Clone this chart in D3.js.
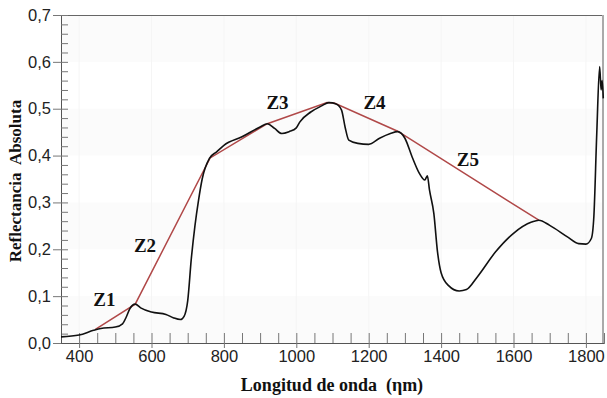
<!DOCTYPE html>
<html><head><meta charset="utf-8">
<script src="https://cdn.jsdelivr.net/npm/d3@7"></script>
<style>html,body{margin:0;padding:0;background:#fff;}</style>
</head><body>
<svg id="chart" width="607" height="398"></svg>
<script>
// Spectrum (wavelength nm, absolute reflectance)
const wavelength = [350,400,440,460,500,520,530,540,555,570,600,640,660,680,690,700,710,720,730,740,760,780,800,850,900,920,940,960,980,1000,1010,1040,1070,1090,1110,1125,1135,1145,1170,1200,1230,1260,1280,1300,1320,1340,1355,1362,1368,1380,1390,1400,1420,1450,1470,1500,1550,1600,1650,1670,1700,1750,1780,1800,1815,1822,1830,1838,1842,1845,1848];
const reflectance = [0.013,0.017,0.027,0.031,0.034,0.041,0.055,0.073,0.083,0.075,0.066,0.061,0.054,0.050,0.057,0.090,0.180,0.250,0.305,0.350,0.394,0.408,0.422,0.440,0.461,0.468,0.458,0.447,0.451,0.459,0.472,0.493,0.506,0.513,0.510,0.497,0.460,0.433,0.426,0.424,0.437,0.447,0.451,0.437,0.397,0.362,0.348,0.357,0.326,0.276,0.195,0.150,0.123,0.111,0.114,0.141,0.194,0.234,0.258,0.262,0.251,0.226,0.212,0.211,0.223,0.270,0.447,0.590,0.540,0.560,0.522];
// Continuum hull vertices
const hullX = [445,555,762,920,1085,1105,1280,1670];
const hullY = [0.029,0.083,0.395,0.468,0.513,0.512,0.452,0.262];
// Zone labels
const zoneLabels = ["Z1","Z2","Z3","Z4","Z5"];
const zoneLabelX = [470,582,948,1216,1474];
const zoneLabelY = [0.078,0.195,0.500,0.500,0.378];
const yTicks = [0,0.1,0.2,0.3,0.4,0.5,0.6,0.7];
const xTicks = [400,600,800,1000,1200,1400,1600,1800];

const svg = d3.select("#chart");
const m = {left:61, right:3, top:15, bottom:55};
const W = 607, H = 398;
const x = d3.scaleLinear().domain([350,1850]).range([m.left, W-m.right]);
const y = d3.scaleLinear().domain([0,0.7]).range([H-m.bottom, m.top]);

// faint background bands
const bands = [0,0.2,0.4,0.6];
svg.selectAll("rect.band").data(bands).enter().append("rect")
  .attr("x", x(350)).attr("width", x(1850)-x(350))
  .attr("y", d=>y(d+0.1)).attr("height", d=>y(d)-y(d+0.1))
  .attr("fill","#fbfbfb");
// faint vertical grid
svg.selectAll("line.vg").data(xTicks).enter().append("line")
  .attr("x1", d=>x(d)).attr("x2", d=>x(d)).attr("y1", y(0)).attr("y2", y(0.7))
  .attr("stroke","#f5f5f5").attr("stroke-width",1);

// frame top/right
svg.append("line").attr("x1",x(350)).attr("x2",x(1850)).attr("y1",y(0.7)+0.5).attr("y2",y(0.7)+0.5).attr("stroke","#666").attr("stroke-width",1);
svg.append("line").attr("x1",x(1850)-1).attr("x2",x(1850)-1).attr("y1",y(0.7)).attr("y2",y(0)).attr("stroke","#aaa").attr("stroke-width",2);

// Y axis
const yAxisMinor = d3.axisRight(y).tickValues(d3.range(0,0.701,0.02)).tickSize(7).tickFormat("");
svg.append("g").attr("transform",`translate(${m.left},0)`).call(yAxisMinor)
  .call(g=>g.select(".domain").attr("stroke","#555"))
  .call(g=>g.selectAll(".tick line").attr("stroke","#777"));
const yAxis = d3.axisLeft(y).tickValues(yTicks).tickSize(8).tickPadding(2)
  .tickFormat(d=>d3.format(".1f")(d).replace(".",","));
svg.append("g").attr("transform",`translate(${m.left},0)`).call(yAxis)
  .call(g=>g.select(".domain").remove())
  .call(g=>g.selectAll(".tick line").attr("stroke","#777"))
  .call(g=>g.selectAll("text").attr("font-family","Liberation Sans, Arial, sans-serif").attr("font-size",16.5).attr("fill","#222"));

// X axis
const xAxisMinor = d3.axisTop(x).tickValues(d3.range(400,1851,50)).tickSize(10).tickFormat("");
svg.append("g").attr("transform",`translate(0,${y(0)})`).call(xAxisMinor)
  .call(g=>g.select(".domain").attr("stroke","#555"))
  .call(g=>g.selectAll(".tick line").attr("stroke","#777"));
const xAxis = d3.axisBottom(x).tickValues(xTicks).tickSize(5).tickPadding(2).tickFormat(d3.format("d"));
svg.append("g").attr("transform",`translate(0,${y(0)})`).call(xAxis)
  .call(g=>g.select(".domain").remove())
  .call(g=>g.selectAll(".tick line").attr("stroke","#777"))
  .call(g=>g.selectAll("text").attr("font-family","Liberation Sans, Arial, sans-serif").attr("font-size",16.5).attr("fill","#222"));

// hull line
const hull = hullX.map((v,i)=>[v,hullY[i]]);
svg.append("path").datum(hull)
  .attr("d", d3.line().x(d=>x(d[0])).y(d=>y(d[1])))
  .attr("fill","none").attr("stroke","#b04848").attr("stroke-width",1.5);

// spectrum
const spec = wavelength.map((v,i)=>[v,reflectance[i]]);
svg.append("path").datum(spec)
  .attr("d", d3.line().x(d=>x(d[0])).y(d=>y(d[1])).curve(d3.curveMonotoneX))
  .attr("fill","none").attr("stroke","#111").attr("stroke-width",1.6);

// zone labels
svg.selectAll("text.zone").data(zoneLabels).enter().append("text")
  .attr("x",(d,i)=>x(zoneLabelX[i])).attr("y",(d,i)=>y(zoneLabelY[i]))
  .attr("text-anchor","middle")
  .attr("font-family","Liberation Serif, Times New Roman, serif").attr("font-weight","bold")
  .attr("font-size",19).attr("fill","#111").text(d=>d);

// axis titles
svg.append("text").attr("x",332).attr("y",391).attr("text-anchor","middle")
  .attr("font-family","Liberation Serif, Times New Roman, serif").attr("font-weight","bold")
  .attr("font-size",18).attr("fill","#111").style("white-space","pre")
  .text("Longitud de onda  (ηm)");
svg.append("text").attr("transform","translate(21,181) rotate(-90)").attr("text-anchor","middle")
  .attr("font-family","Liberation Serif, Times New Roman, serif").attr("font-weight","bold")
  .attr("font-size",17).attr("fill","#111").style("white-space","pre")
  .text("Reflectancia  Absoluta");
</script>
</body></html>
